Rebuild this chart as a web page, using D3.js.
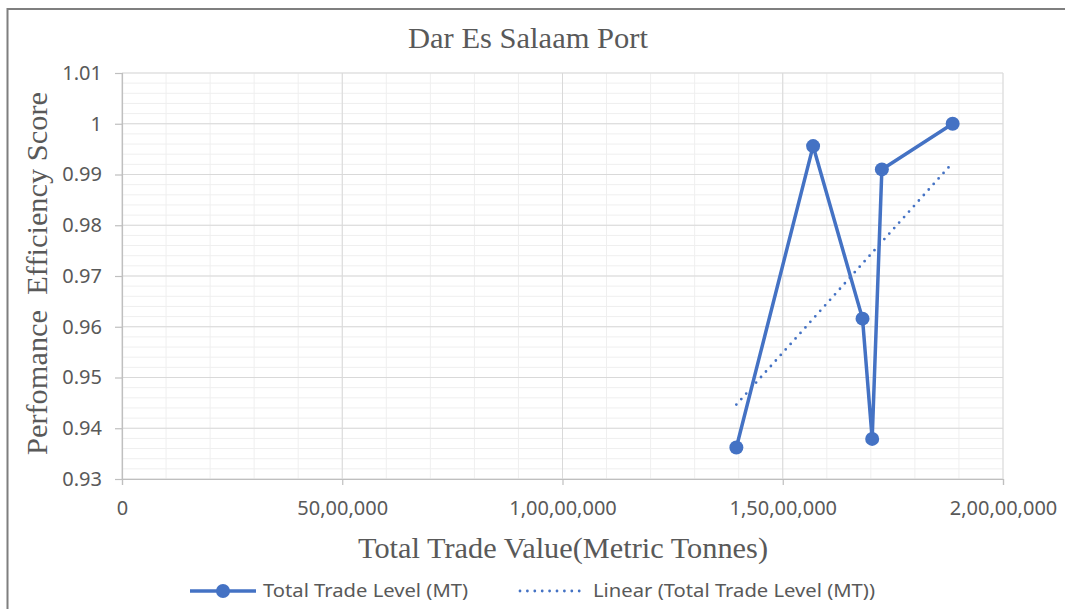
<!DOCTYPE html>
<html>
<head>
<meta charset="utf-8">
<script src="https://cdn.jsdelivr.net/npm/d3@7"></script>
<style>
  body { margin: 0; background: #fff; }
  svg { display: block; }
</style>
</head>
<body>
<svg id="chart" width="1065" height="609"></svg>
<script>
// ---- data ----
const tradeValues = [13947000, 15689000, 16811000, 17030000, 17250000, 18857000];
const efficiencyScores = [0.9362, 0.9956, 0.9616, 0.9379, 0.9910, 1.0];
const xTicks = [0, 5000000, 10000000, 15000000, 20000000];
const yTicks = [0.93, 0.94, 0.95, 0.96, 0.97, 0.98, 0.99, 1.0, 1.01];
const titleText = "Dar Es Salaam Port";
const xTitle = "Total Trade Value(Metric Tonnes)";
const yTitle = "Perfomance  Efficiency Score";
const legendLabels = ["Total Trade Level (MT)", "Linear (Total Trade Level (MT))"];

const blue = "#4472C4";
const grey = "#595959";

const svg = d3.select("#chart");
const W = 1065, H = 609;

// plot area
const m = { left: 122, right: 1003, top: 73, bottom: 479 };

const x = d3.scaleLinear().domain([0, 20000000]).range([m.left, m.right]);
const y = d3.scaleLinear().domain([0.93, 1.01]).range([m.bottom, m.top]);

// Indian digit grouping, like 1,00,00,000
function indianFormat(v) {
    const s = String(Math.round(v));
    if (s.length <= 3) return s;
    const last3 = s.slice(-3);
    let rest = s.slice(0, -3);
    const parts = [];
    while (rest.length > 2) {
        parts.unshift(rest.slice(-2));
        rest = rest.slice(0, -2);
    }
    if (rest.length) parts.unshift(rest);
    return parts.join(",") + "," + last3;
}

// outer frame (only top and left visible in the picture)
svg.append("path")
    .attr("d", `M7.5,${H} L7.5,9 L${W},9`)
    .attr("fill", "none")
    .attr("stroke", "#7f7f7f")
    .attr("stroke-width", 2);

// minor grid
const xMinor = d3.range(0, 20000001, 1000000);
const yMinor = d3.range(0, 41).map(i => 0.93 + i * 0.002);
const grid = svg.append("g");
grid.selectAll(".xminor").data(xMinor).join("line")
    .attr("x1", d => x(d)).attr("x2", d => x(d))
    .attr("y1", m.top).attr("y2", m.bottom)
    .attr("stroke", "#efefef").attr("stroke-width", 1);
grid.selectAll(".yminor").data(yMinor).join("line")
    .attr("x1", m.left).attr("x2", m.right)
    .attr("y1", d => y(d)).attr("y2", d => y(d))
    .attr("stroke", "#efefef").attr("stroke-width", 1);

// major grid
grid.selectAll(".xmajor").data(xTicks).join("line")
    .attr("x1", d => x(d)).attr("x2", d => x(d))
    .attr("y1", m.top).attr("y2", m.bottom)
    .attr("stroke", "#d9d9d9").attr("stroke-width", 1);
grid.selectAll(".ymajor").data(yTicks).join("line")
    .attr("x1", m.left).attr("x2", m.right)
    .attr("y1", d => y(d)).attr("y2", d => y(d))
    .attr("stroke", "#d9d9d9").attr("stroke-width", 1);

// axes
const xAxis = svg.append("g")
    .attr("transform", `translate(0,${m.bottom})`)
    .call(d3.axisBottom(x).tickValues(xTicks).tickFormat(indianFormat).tickSize(6).tickPadding(16));
const yAxis = svg.append("g")
    .attr("transform", `translate(${m.left},0)`)
    .call(d3.axisLeft(y).tickValues(yTicks).tickFormat(d => d3.format("")(+d.toFixed(2))).tickSize(7).tickPadding(13));

[xAxis, yAxis].forEach(a => {
    a.select(".domain").attr("stroke", "#bfbfbf").attr("stroke-width", 1.2);
    a.selectAll(".tick line").attr("stroke", "#bfbfbf").attr("stroke-width", 1.2);
    a.selectAll(".tick text")
        .attr("fill", grey)
        .style("font-family", "'Noto Sans', sans-serif")
        .style("font-size", "20px");
});

// titles
svg.append("text")
    .attr("x", 528).attr("y", 48)
    .attr("text-anchor", "middle")
    .attr("fill", grey)
    .style("font-family", "'Liberation Serif', serif")
    .style("font-size", "30px")
    .attr("textLength", 240).attr("lengthAdjust", "spacingAndGlyphs")
    .text(titleText);

svg.append("text")
    .attr("x", 563).attr("y", 558)
    .attr("text-anchor", "middle")
    .attr("fill", grey)
    .style("font-family", "'Liberation Serif', serif")
    .style("font-size", "29px")
    .attr("textLength", 410).attr("lengthAdjust", "spacingAndGlyphs")
    .text(xTitle);

svg.append("text")
    .attr("transform", `translate(47,${(92 + 455) / 2}) rotate(-90)`)
    .attr("text-anchor", "middle")
    .attr("fill", grey)
    .style("font-family", "'Liberation Serif', serif")
    .style("font-size", "29px")
    .style("white-space", "pre")
    .attr("textLength", 363).attr("lengthAdjust", "spacingAndGlyphs")
    .text(yTitle);

// series
const pts = tradeValues.map((v, i) => ({ x: v, y: efficiencyScores[i] }));

// linear trend (least squares) over data range
const mx = d3.mean(pts, d => d.x), my = d3.mean(pts, d => d.y);
const slope = d3.sum(pts, d => (d.x - mx) * (d.y - my)) / d3.sum(pts, d => (d.x - mx) ** 2);
const icpt = my - slope * mx;
const xExt = d3.extent(pts, d => d.x);
const trend = xExt.map(v => ({ x: v, y: icpt + slope * v }));

const line = d3.line().x(d => x(d.x)).y(d => y(d.y));

svg.append("path")
    .datum(trend)
    .attr("d", line)
    .attr("fill", "none")
    .attr("stroke", blue)
    .attr("stroke-width", 2.8)
    .attr("stroke-linecap", "round")
    .attr("stroke-dasharray", "0 7.4");

svg.append("path")
    .datum(pts)
    .attr("d", line)
    .attr("fill", "none")
    .attr("stroke", blue)
    .attr("stroke-width", 3.5)
    .attr("stroke-linejoin", "round");

svg.selectAll(".pt").data(pts).join("circle")
    .attr("cx", d => x(d.x)).attr("cy", d => y(d.y))
    .attr("r", 7)
    .attr("fill", blue);

// legend
const lg = svg.append("g");
lg.append("line")
    .attr("x1", 190).attr("x2", 256).attr("y1", 591).attr("y2", 591)
    .attr("stroke", blue).attr("stroke-width", 3.5);
lg.append("circle").attr("cx", 223).attr("cy", 591).attr("r", 7).attr("fill", blue);
lg.append("line")
    .attr("x1", 520).attr("x2", 580).attr("y1", 591).attr("y2", 591)
    .attr("stroke", blue).attr("stroke-width", 2.8)
    .attr("stroke-linecap", "round").attr("stroke-dasharray", "0 7.4");
const legendX = [263, 593];
const legendW = [205, 282];
legendLabels.forEach((t, i) => {
    lg.append("text")
        .attr("x", legendX[i]).attr("y", 597)
        .attr("fill", grey)
        .style("font-family", "'Noto Sans', sans-serif")
        .style("font-size", "18px")
        .attr("textLength", legendW[i]).attr("lengthAdjust", "spacingAndGlyphs")
        .text(t);
});
</script>
</body>
</html>
